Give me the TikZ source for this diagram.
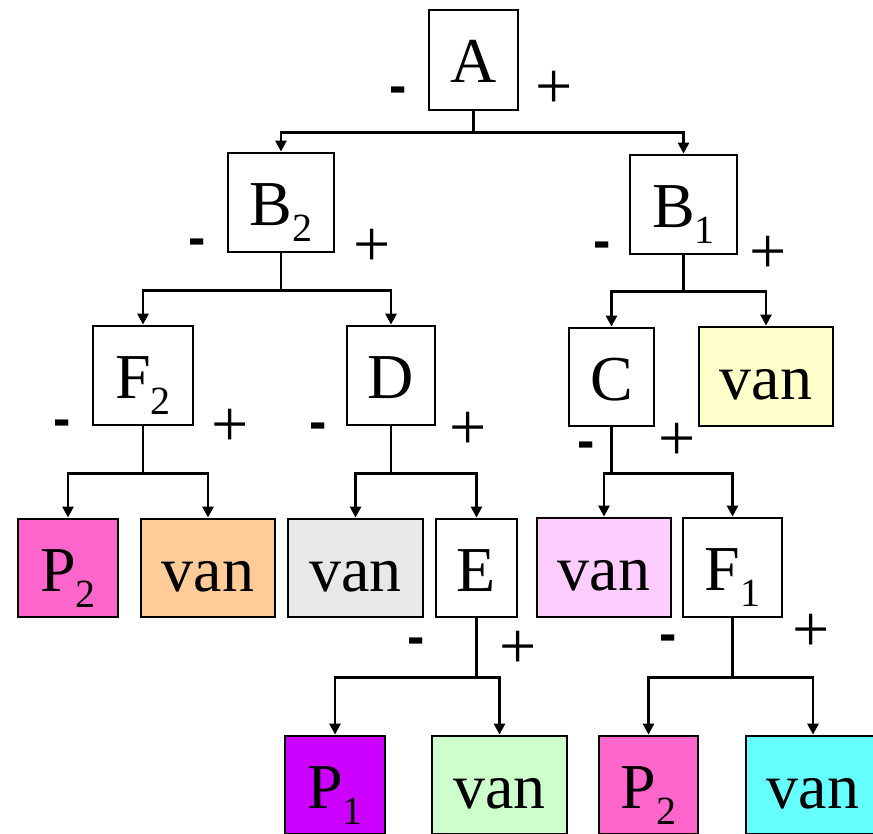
\documentclass[tikz,border=0pt]{standalone}
\usepackage{fontspec}
\setmainfont{Liberation Serif}
\newfontfamily\tmsfont{Liberation Serif}
\newfontfamily\sgnfont{Liberation Sans}
\usetikzlibrary{arrows.meta}
\definecolor{pinkP}{HTML}{FF66CC}
\definecolor{orangeV}{HTML}{FFCC99}
\definecolor{greyV}{HTML}{E8E8E8}
\definecolor{lpinkV}{HTML}{FFCCFF}
\definecolor{yellowV}{HTML}{FFFFCC}
\definecolor{purpleP}{HTML}{CC00FF}
\definecolor{greenV}{HTML}{CCFFCC}
\definecolor{cyanV}{HTML}{66FFFF}
\newcommand{\sub}[1]{\raisebox{-16pt}{\fontsize{40}{40}\selectfont #1}}
\tikzset{
  box/.style={draw=black, line width=2.8pt, fill=white, inner sep=0pt,
    text height=46pt, text depth=0pt, font=\tmsfont\fontsize{64}{64}\selectfont},
  conn/.style={line width=2.6pt, line join=miter, -{Triangle[length=11pt,width=11pt]}},
  minus/.style={font=\sgnfont\bfseries\fontsize{52}{52}\selectfont, inner sep=0pt},
  plus/.style={font=\tmsfont\fontsize{66}{66}\selectfont, inner sep=0pt}
}
\begin{document}
\begin{tikzpicture}[x=1pt,y=-1pt]
\useasboundingbox (0,0) rectangle (873,834);
% level 0
\node[box, minimum width=89pt, minimum height=100pt] (A) at (473.5,60) {A};
% level 1
\node[box, minimum width=106pt, minimum height=99pt] (B2) at (281,202.5) {B\sub{2}};
\node[box, minimum width=107pt, minimum height=99pt] (B1) at (683.5,204.5) {B\sub{1}};
% level 2
\node[box, minimum width=100pt, minimum height=99pt] (F2) at (143,375.5) {F\sub{2}};
\node[box, minimum width=88pt, minimum height=99pt] (D) at (391,375.5) {D};
\node[box, minimum width=85pt, minimum height=98pt] (C) at (611.5,377) {C};
\node[box, fill=yellowV, minimum width=134pt, minimum height=99pt] (vanY) at (766,376.5) {van};
% level 3
\node[box, fill=pinkP, minimum width=100pt, minimum height=98pt] (P2a) at (68,568) {P\sub{2}};
\node[box, fill=orangeV, minimum width=134pt, minimum height=98pt] (vanO) at (208,568) {van};
\node[box, fill=greyV, minimum width=135pt, minimum height=98pt] (vanG) at (355.5,568) {van};
\node[box, minimum width=81pt, minimum height=98pt] (E) at (476.5,568) {E};
\node[box, fill=lpinkV, minimum width=134pt, minimum height=99pt] (vanP) at (604,567.5) {van};
\node[box, minimum width=99pt, minimum height=99pt] (F1) at (732.5,567.5) {F\sub{1}};
% level 4
\node[box, fill=purpleP, minimum width=100pt, minimum height=98pt] (P1) at (335,785) {P\sub{1}};
\node[box, fill=greenV, minimum width=135pt, minimum height=98pt] (vanL) at (499.5,785) {van};
\node[box, fill=pinkP, minimum width=99pt, minimum height=98pt] (P2b) at (648.5,785) {P\sub{2}};
\node[box, fill=cyanV, minimum width=134pt, minimum height=98pt] (vanC) at (813,785) {van};
% connectors
\draw[conn] (A.south) -- ++(0,21) -| (B2.north);
\draw[conn] (A.south) -- ++(0,21) -| (B1.north);
\draw[conn] (B2.south) -- ++(0,37) -| (F2.north);
\draw[conn] (B2.south) -- ++(0,37) -| (D.north);
\draw[conn] (B1.south) -- ++(0,36) -| (C.north);
\draw[conn] (B1.south) -- ++(0,36) -| (vanY.north);
\draw[conn] (F2.south) -- ++(0,47) -| (P2a.north);
\draw[conn] (F2.south) -- ++(0,47) -| (vanO.north);
\draw[conn] (D.south) -- ++(0,47) -| (vanG.north);
\draw[conn] (D.south) -- ++(0,47) -| (E.north);
\draw[conn] (C.south) -- ++(0,46) -| (vanP.north);
\draw[conn] (C.south) -- ++(0,46) -| (F1.north);
\draw[conn] (E.south) -- ++(0,59) -| (P1.north);
\draw[conn] (E.south) -- ++(0,59) -| (vanL.north);
\draw[conn] (F1.south) -- ++(0,59) -| (P2b.north);
\draw[conn] (F1.south) -- ++(0,59) -| (vanC.north);
% signs
\node[minus] (mA) at (398,95) {-};
\node[plus] (pA) at (554,90) {+};
\node[minus] (mB2) at (197,247) {-};
\node[plus] (pB2) at (372,248) {+};
\node[minus] (mB1) at (602,250) {-};
\node[plus] (pB1) at (768,255) {+};
\node[minus] (mF2) at (62,428) {-};
\node[plus] (pF2) at (230,428) {+};
\node[minus] (mD) at (318,431) {-};
\node[plus] (pD) at (468,431) {+};
\node[minus] (mC) at (586,450) {-};
\node[plus] (pC) at (677,442) {+};
\node[minus] (mE) at (416,646) {-};
\node[plus] (pE) at (518,650) {+};
\node[minus] (mF1) at (668,643) {-};
\node[plus] (pF1) at (811,633) {+};
\end{tikzpicture}
\end{document}
